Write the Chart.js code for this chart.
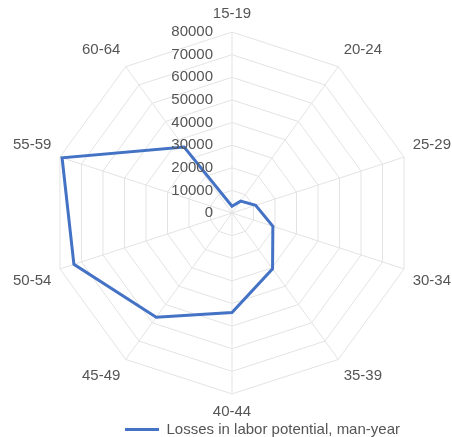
<!DOCTYPE html>
<html>
<head>
<meta charset="utf-8">
<script src="https://cdn.jsdelivr.net/npm/chart.js@4.4.1/dist/chart.umd.min.js"></script>
<style>
  html, body { margin: 0; padding: 0; background: #fff; }
  #wrap { width: 452px; height: 437px; }
</style>
</head>
<body>
<div id="wrap"><canvas id="chart"></canvas></div>
<script>
// age groups and losses (man-year)
const ageGroups = ['15-19', '20-24', '25-29', '30-34', '35-39', '40-44', '45-49', '50-54', '55-59', '60-64'];
const losses = [3000, 6500, 11000, 19000, 30500, 44000, 57000, 73500, 79000, 36000];
const tickValues = [0, 10000, 20000, 30000, 40000, 50000, 60000, 70000, 80000];

const textColor = '#555555';
const gridColor = '#e3e3e3';

// tick labels drawn right aligned, left of the vertical axis (as in Excel)
const tickLabelsPlugin = {
    id: 'tickLabels',
    afterDatasetsDraw(chart) {
        const scale = chart.scales.r;
        const ctx = chart.ctx;
        ctx.save();
        ctx.font = '15px "Liberation Sans", Arial, sans-serif';
        ctx.fillStyle = textColor;
        ctx.textAlign = 'right';
        ctx.textBaseline = 'middle';
        tickValues.forEach(v => {
            const d = scale.getDistanceFromCenterForValue(v);
            ctx.fillText(String(v), scale.xCenter - 19, scale.yCenter - d);
        });
        ctx.restore();
    }
};

// the legend sits a bit right of centre in the original
const legendShift = {
    id: 'legendShift',
    afterLayout(chart) {
        chart.legend.left += 30;
        chart.legend.right += 30;
    }
};

const ctx = document.getElementById('chart').getContext('2d');
new Chart(ctx, {
    type: 'radar',
    data: {
        labels: ageGroups,
        datasets: [{
            label: 'Losses in labor potential, man-year',
            data: losses,
            borderColor: '#4472C4',
            backgroundColor: 'rgba(0,0,0,0)',
            borderWidth: 3,
            pointRadius: 0,
            fill: false,
            tension: 0
        }]
    },
    options: {
        responsive: true,
        maintainAspectRatio: false,
        animation: false,
        layout: {
            padding: { top: 4, left: 13, right: 0, bottom: -10 }
        },
        scales: {
            r: {
                min: 0,
                max: 80000,
                ticks: { stepSize: 10000, display: false },
                grid: { color: gridColor, lineWidth: 1, circular: false },
                angleLines: { color: gridColor, lineWidth: 1 },
                pointLabels: {
                    color: textColor,
                    padding: 9,
                    font: { size: 15, family: '"Liberation Sans", Arial, sans-serif' }
                }
            }
        },
        plugins: {
            legend: {
                position: 'bottom',
                labels: {
                    color: textColor,
                    usePointStyle: true,
                    pointStyle: 'line',
                    pointStyleWidth: 34,
                    padding: 0,
                    font: { size: 15, family: '"Liberation Sans", Arial, sans-serif' }
                }
            },
            tooltip: { enabled: false }
        }
    },
    plugins: [tickLabelsPlugin, legendShift]
});
</script>
</body>
</html>
